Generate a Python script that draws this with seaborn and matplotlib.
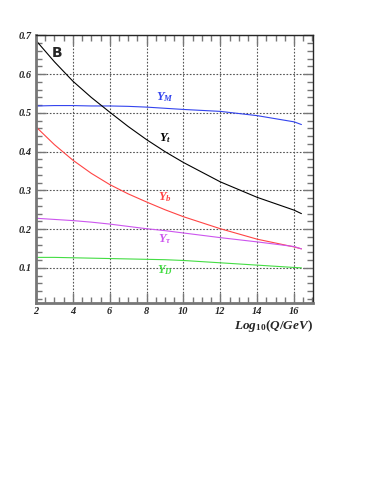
import numpy as np
import pandas as pd
import matplotlib
matplotlib.use("Agg")
import matplotlib.pyplot as plt
import seaborn as sns
from matplotlib.ticker import MultipleLocator

sns.set_style("ticks")
plt.rcParams['font.family'] = ['Liberation Serif', 'DejaVu Serif']
plt.rcParams['mathtext.fontset'] = 'custom'
plt.rcParams['mathtext.rm'] = 'Liberation Serif'
plt.rcParams['mathtext.it'] = 'Liberation Serif:italic'
plt.rcParams['mathtext.bf'] = 'Liberation Serif:bold'
plt.rcParams['mathtext.bfit'] = 'Liberation Serif:bold:italic'

log_q = [2, 3, 4, 5, 6, 7, 8, 9, 10, 12, 14, 16, 16.4]
y_m = [0.518, 0.519, 0.519, 0.518, 0.518, 0.517, 0.515, 0.512, 0.509, 0.504, 0.493, 0.477, 0.470]
y_t = [0.687, 0.632, 0.582, 0.540, 0.502, 0.465, 0.431, 0.400, 0.372, 0.322, 0.282, 0.249, 0.240]
y_b = [0.464, 0.418, 0.378, 0.344, 0.315, 0.291, 0.270, 0.250, 0.232, 0.201, 0.174, 0.154, 0.149]
y_tau = [0.228, 0.225, 0.222, 0.218, 0.213, 0.207, 0.201, 0.196, 0.190, 0.178, 0.167, 0.155, 0.149]
y_d = [0.127, 0.127, 0.126, 0.125, 0.124, 0.123, 0.122, 0.121, 0.119, 0.113, 0.107, 0.101, 0.100]

names = ["Y_M", "Y_t", "Y_b", "Y_tau", "Y_D"]
colors = ["#3344ee", "black", "#ff4444", "#cc55ee", "#44dd44"]
labels = [r"$\boldsymbol{Y}_{\boldsymbol{M}}$", r"$\boldsymbol{Y}_{\boldsymbol{t}}$",
          r"$\boldsymbol{Y}_{\boldsymbol{b}}$", r"$\boldsymbol{Y}_{\boldsymbol{\tau}}$",
          r"$\boldsymbol{Y}_{\boldsymbol{D}}$"]
label_pos = [(9.0, 0.541), (9.0, 0.435), (9.0, 0.283), (9.0, 0.174), (9.0, 0.094)]

df = pd.DataFrame({"logq": log_q, "Y_M": y_m, "Y_t": y_t, "Y_b": y_b,
                   "Y_tau": y_tau, "Y_D": y_d})
long_df = df.melt(id_vars="logq", var_name="coupling", value_name="y")

fig = plt.figure(figsize=(3.74, 4.84), dpi=100)
ax = fig.add_axes([0.0963, 0.3746, 0.7407, 0.5521])

sns.lineplot(data=long_df, x="logq", y="y", hue="coupling", hue_order=names,
             palette=colors, linewidth=0.8, legend=False, ax=ax)
ax.set_xlabel("")
ax.set_ylabel("")

ax.set_xlim(2, 17.03)
ax.set_ylim(0.01, 0.7)
ax.xaxis.set_minor_locator(MultipleLocator(0.5))
ax.yaxis.set_minor_locator(MultipleLocator(0.02))
ax.set_xticks([2, 4, 6, 8, 10, 12, 14, 16])
ax.set_xticklabels(["2", "4", "6", "8", "10", "12", "14", "16"],
                   fontweight="bold", fontstyle="italic", fontsize=7.5)
ax.set_yticks([0.1, 0.2, 0.3, 0.4, 0.5, 0.6, 0.7])
ax.set_yticklabels(["0.1", "0.2", "0.3", "0.4", "0.5", "0.6", "0.7"],
                   fontweight="bold", fontstyle="italic", fontsize=7.5)
ax.grid(True, which="major", linestyle=(0, (1.5, 1.5)), color="#555555", linewidth=0.8)

ax.tick_params(which="both", direction="in", top=True, right=True, pad=3)
ax.tick_params(which="major", length=7, width=1.0, color="#777777")
ax.tick_params(which="minor", length=4, width=1.0, color="#777777")

ax.spines["left"].set_linewidth(2.0)
ax.spines["left"].set_color("#777777")
ax.spines["bottom"].set_linewidth(2.0)
ax.spines["bottom"].set_color("#777777")
ax.spines["top"].set_linewidth(1.0)
ax.spines["right"].set_linewidth(1.0)

for lab, (lx, ly), c in zip(labels, label_pos, colors):
    ax.text(lx, ly, lab, color=c, fontsize=9, ha="center", va="center")

ax.text(3.15, 0.655, "B", fontsize=10, fontweight="bold", family="DejaVu Sans",
        ha="center", va="center")

ax.text(1.0, -0.058,
        r"$\boldsymbol{Log}_{\boldsymbol{10}}\boldsymbol{(Q/GeV)}$",
        transform=ax.transAxes, ha="right", va="top", fontsize=9.5)

fig.savefig("out.png", dpi=100)
